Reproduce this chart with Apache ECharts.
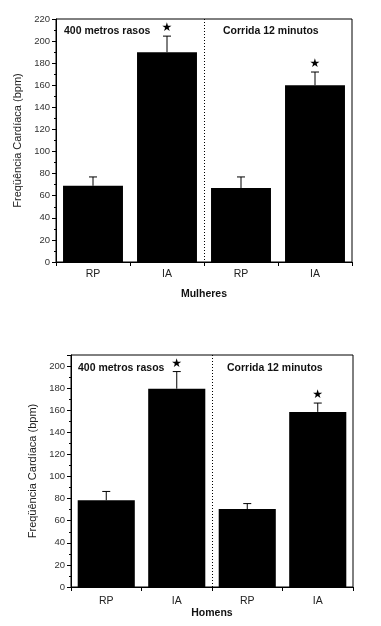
<!DOCTYPE html>
<html><head><meta charset="utf-8">
<script src="https://cdn.jsdelivr.net/npm/echarts@6/dist/echarts.min.js"></script>
<style>html,body{margin:0;padding:0;background:#fff}#c{width:381px;height:626px}</style>
</head><body><div id="c"></div>
<script>
const categories = ['RP', 'IA', 'RP', 'IA'];
const mulheresValues = [69, 190, 67, 160];
const mulheresErrors = [8, 14.5, 10, 12];
const mulheresSig = [false, true, false, true];
const homensValues = [78.5, 179.5, 70.5, 158.5];
const homensErrors = [8, 15.5, 5, 8];
const homensSig = [false, true, false, true];
const yTicksTop = { min: 0, max: 220, interval: 20 };
const yTicksBottom = { min: 0, max: 210, interval: 20 };
const groupLabels = ['400 metros rasos', 'Corrida 12 minutos'];
const yTitle = 'Freqüência Cardíaca (bpm)';
const xTitles = ['Mulheres', 'Homens'];

const FONT = '"Liberation Sans", Arial, sans-serif';
const chart = echarts.init(document.getElementById('c'));

function xAxis(idx, name, gap, margin) {
  return {
    type: 'category', gridIndex: idx, data: categories,
    name: name, nameLocation: 'middle', nameGap: gap,
    nameTextStyle: { fontFamily: FONT, fontSize: 10.5, fontWeight: 'bold', color: '#111' },
    axisLine: { lineStyle: { color: '#000', width: 1 } },
    axisTick: { show: true, length: 4, lineStyle: { color: '#000' } },
    axisLabel: { fontFamily: FONT, fontSize: 10.5, color: '#222', margin: margin }
  };
}
function yAxis(idx, t, gap) {
  return {
    type: 'value', gridIndex: idx, min: t.min, max: t.max, interval: t.interval,
    name: yTitle, nameLocation: 'middle', nameGap: gap, nameRotate: 90,
    nameTextStyle: { fontFamily: FONT, fontSize: 11, color: '#222' },
    axisLine: { show: true, lineStyle: { color: '#000', width: 1 } },
    axisTick: { show: true, length: 4, lineStyle: { color: '#000' } },
    minorTick: { show: true, splitNumber: 2, length: 2, lineStyle: { color: '#000' } },
    splitLine: { show: false },
    axisLabel: { fontFamily: FONT, fontSize: 9.5, color: '#333', margin: 6, showMaxLabel: t.max % t.interval === 0 }
  };
}
function errSeries(idx, vals, errs, sig) {
  return {
    type: 'custom', xAxisIndex: idx, yAxisIndex: idx,
    data: vals.map((v, i) => [i, v, errs[i], sig[i] ? 1 : 0]),
    renderItem: function (params, api) {
      const i = api.value(0), v = api.value(1), e = api.value(2), s = api.value(3);
      const b = api.coord([i, v]);
      const t = api.coord([i, v + e]);
      const children = [
        { type: 'line', shape: { x1: b[0], y1: b[1], x2: t[0], y2: t[1] }, style: { stroke: '#000', lineWidth: 1 } },
        { type: 'line', shape: { x1: t[0] - 4, y1: t[1], x2: t[0] + 4, y2: t[1] }, style: { stroke: '#000', lineWidth: 1 } }
      ];
      if (s) {
        children.push({ type: 'text', style: { text: '★', x: t[0], y: t[1] - 8, align: 'center', verticalAlign: 'middle', fontSize: 12, fontFamily: 'DejaVu Sans', fill: '#000' } });
      }
      return { type: 'group', children: children };
    },
    z: 5
  };
}
function dividerSeries(idx, maxV) {
  return {
    type: 'custom', xAxisIndex: idx, yAxisIndex: idx,
    data: [[1, maxV]],
    renderItem: function (params, api) {
      const a = api.coord([1, 0]), b = api.coord([2, 0]);
      const top = api.coord([1, api.value(1)]);
      const x = Math.round((a[0] + b[0]) / 2) + 0.5;
      return { type: 'line', shape: { x1: x, y1: top[1], x2: x, y2: a[1] }, style: { stroke: '#000', lineWidth: 1, lineDash: [1, 2] } };
    },
    z: 4
  };
}
function barSeries(idx, vals) {
  return {
    type: 'bar', xAxisIndex: idx, yAxisIndex: idx, data: vals,
    barWidth: '81%', itemStyle: { color: '#000' }, z: 3
  };
}
const labelStyle = { fontFamily: FONT, fontSize: 10.5, fontWeight: 'bold', fill: '#111' };

chart.setOption({
  animation: false,
  grid: [
    { left: 56, top: 19, width: 296, height: 243, show: true, borderColor: '#000', borderWidth: 1, backgroundColor: 'transparent' },
    { left: 71, top: 355, width: 282, height: 232, show: true, borderColor: '#000', borderWidth: 1, backgroundColor: 'transparent' }
  ],
  xAxis: [xAxis(0, xTitles[0], 27, 7), xAxis(1, xTitles[1], 21, 9)],
  yAxis: [yAxis(0, yTicksTop, 29), yAxis(1, yTicksBottom, 27)],
  series: [
    barSeries(0, mulheresValues), errSeries(0, mulheresValues, mulheresErrors, mulheresSig), dividerSeries(0, yTicksTop.max),
    barSeries(1, homensValues), errSeries(1, homensValues, homensErrors, homensSig), dividerSeries(1, yTicksBottom.max)
  ],
  graphic: [
    { type: 'text', left: 64, top: 26, style: Object.assign({ text: groupLabels[0] }, labelStyle) },
    { type: 'text', left: 223, top: 26, style: Object.assign({ text: groupLabels[1] }, labelStyle) },
    { type: 'text', left: 78, top: 363, style: Object.assign({ text: groupLabels[0] }, labelStyle) },
    { type: 'text', left: 227, top: 363, style: Object.assign({ text: groupLabels[1] }, labelStyle) }
  ]
});
</script></body></html>
